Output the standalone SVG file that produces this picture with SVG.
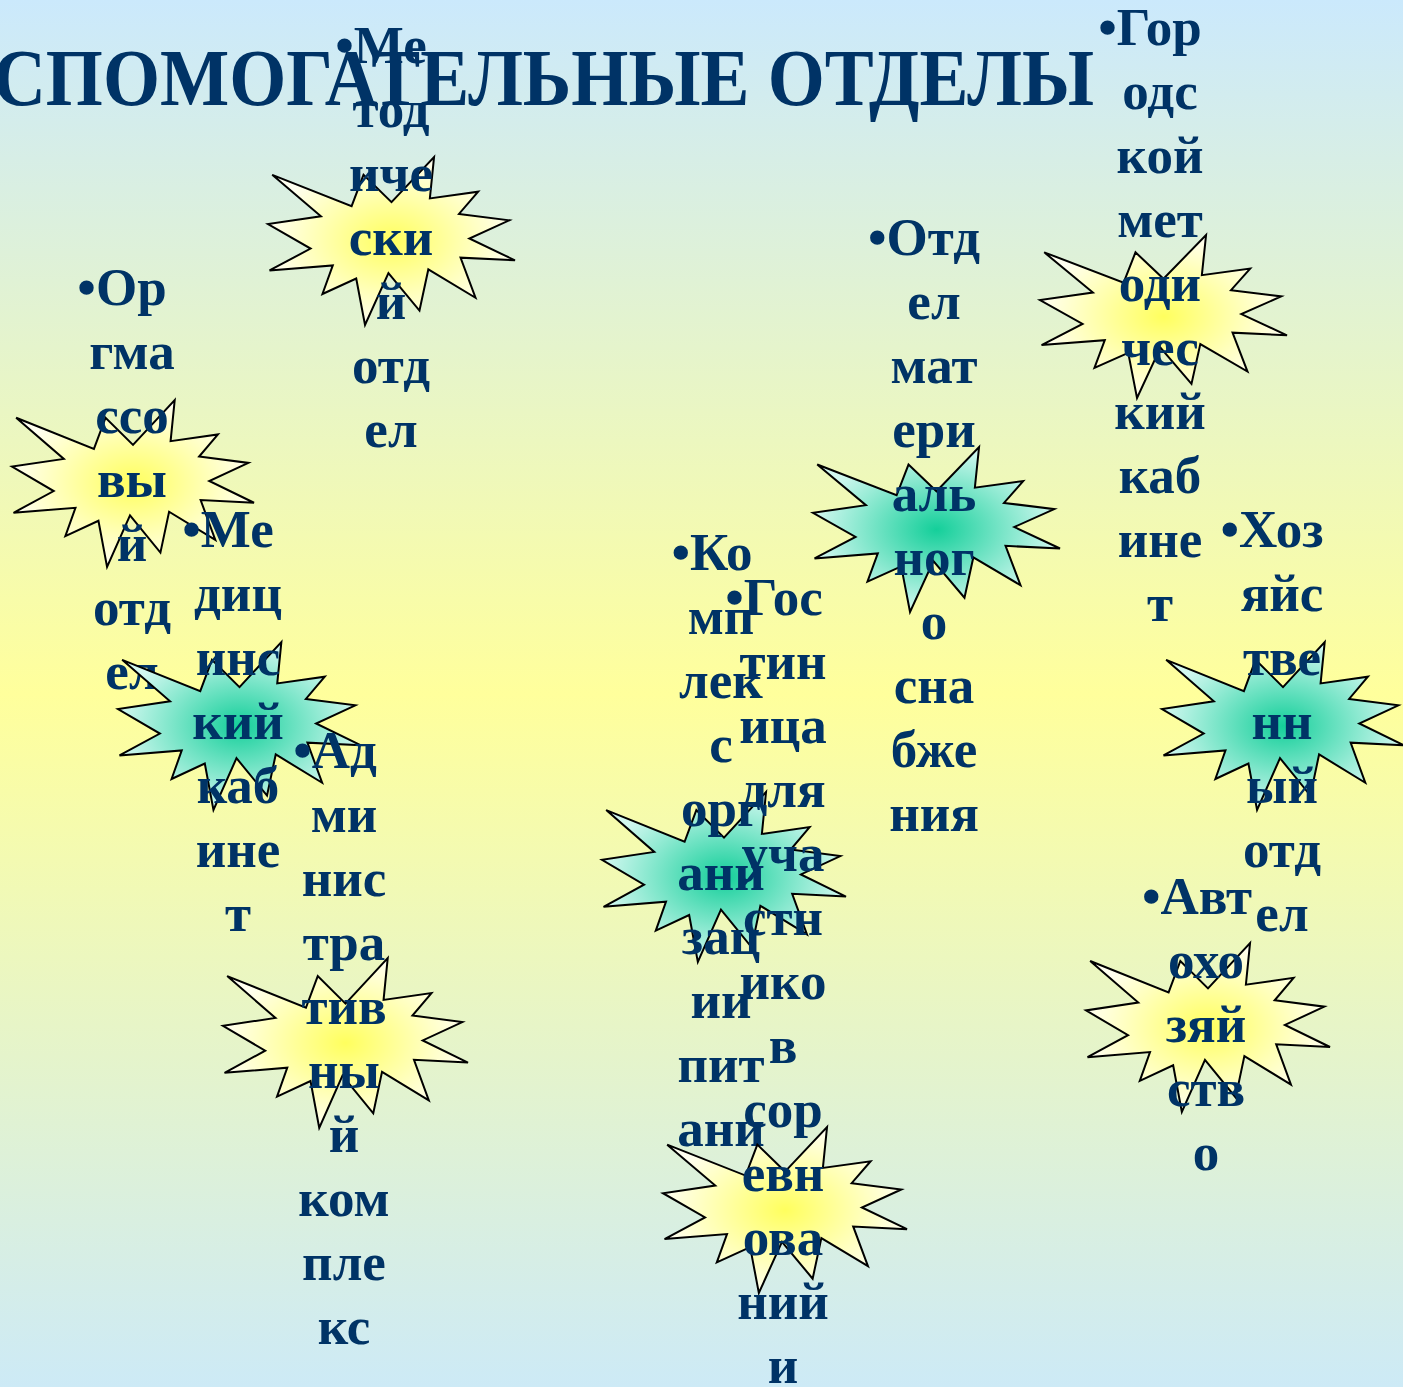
<svg xmlns="http://www.w3.org/2000/svg" xmlns:xlink="http://www.w3.org/1999/xlink" width="1403" height="1387" viewBox="0 0 1403 1387">
<defs>
<linearGradient id="bg" x1="0" y1="0" x2="0" y2="1">
<stop offset="0" stop-color="#cbe9fc"/>
<stop offset="0.5" stop-color="#ffff9c"/>
<stop offset="1" stop-color="#cdeaf6"/>
</linearGradient>
<radialGradient id="gy" cx="0.5" cy="0.5" r="0.5">
<stop offset="0" stop-color="#ffff5e"/>
<stop offset="1" stop-color="#fffff0"/>
</radialGradient>
<radialGradient id="gt" cx="0.5" cy="0.5" r="0.5">
<stop offset="0" stop-color="#14cf9a"/>
<stop offset="1" stop-color="#d2f8f0"/>
</radialGradient>
<polygon id="seal" vector-effect="non-scaling-stroke" points="108,58 145.22,0 141.55,53.25 183.8,44.57 167.02,73.15 210.97,81.37 176.07,104.75 216,132.9 168.37,129.42 181.45,180.95 140.2,144.57 132.47,197.37 105.32,149.35 84.85,216 77.15,156.27 47.62,176.17 56.67,139.37 1.35,145.87 37.22,117.75 0,86.15 46.27,76.17 3.7,22.95 73.12,63.2 83.52,22.95"/>
</defs>
<style>
.y{fill:url(#gy);stroke:#000;stroke-width:2;stroke-linejoin:miter}
.g{fill:url(#gt);stroke:#000;stroke-width:2;stroke-linejoin:miter}
.t{font-family:"Liberation Serif","Times New Roman",serif;font-weight:bold;font-size:53px;fill:#003366;text-anchor:middle}
.title{font-family:"Liberation Serif","Times New Roman",serif;font-weight:bold;font-size:80px;fill:#003366}
</style>
<rect x="0" y="0" width="1403" height="1387" fill="url(#bg)"/>
<text id="title" class="title" x="-56" y="105" textLength="1150" lengthAdjust="spacingAndGlyphs">ВСПОМОГАТЕЛЬНЫЕ ОТДЕЛЫ</text>
<g id="connectors"></g>
<g id="node-orgmass">
<use xlink:href="#seal" class="y" transform="translate(12,400) scale(1.1204,0.7731)"/>
<text class="t"><tspan x="122" y="305">•Ор</tspan><tspan x="132" y="369">гма</tspan><tspan x="132" y="433">ссо</tspan><tspan x="132" y="497">вы</tspan><tspan x="132" y="561">й</tspan><tspan x="132" y="625">отд</tspan><tspan x="132" y="689">ел</tspan></text>
</g>
<g id="node-method">
<use xlink:href="#seal" class="y" transform="translate(268,157) scale(1.1435,0.7778)"/>
<text class="t"><tspan x="381" y="63">•Ме</tspan><tspan x="391" y="127">тод</tspan><tspan x="391" y="191">иче</tspan><tspan x="391" y="255">ски</tspan><tspan x="391" y="319">й</tspan><tspan x="391" y="383">отд</tspan><tspan x="391" y="447">ел</tspan></text>
</g>
<g id="node-medical">
<use xlink:href="#seal" class="g" transform="translate(118,642) scale(1.125,0.7778)"/>
<text class="t"><tspan x="228" y="547">•Ме</tspan><tspan x="238" y="611">диц</tspan><tspan x="238" y="675">инс</tspan><tspan x="238" y="739">кий</tspan><tspan x="238" y="803">каб</tspan><tspan x="238" y="867">ине</tspan><tspan x="238" y="931">т</tspan></text>
</g>
<g id="node-admin">
<use xlink:href="#seal" class="y" transform="translate(223,958) scale(1.1343,0.787)"/>
<text class="t"><tspan x="335" y="768">•Ад</tspan><tspan x="344" y="832">ми</tspan><tspan x="344" y="896">нис</tspan><tspan x="344" y="960">тра</tspan><tspan x="344" y="1024">тив</tspan><tspan x="344" y="1088">ны</tspan><tspan x="344" y="1152">й</tspan><tspan x="344" y="1216">ком</tspan><tspan x="344" y="1280">пле</tspan><tspan x="344" y="1344">кс</tspan></text>
</g>
<g id="node-food">
<use xlink:href="#seal" class="g" transform="translate(602,792) scale(1.1296,0.787)"/>
<text class="t"><tspan x="712" y="570">•Ко</tspan><tspan x="721" y="634">мп</tspan><tspan x="721" y="698">лек</tspan><tspan x="721" y="762">с</tspan><tspan x="721" y="826">орг</tspan><tspan x="721" y="890">ани</tspan><tspan x="721" y="954">зац</tspan><tspan x="721" y="1018">ии</tspan><tspan x="721" y="1082">пит</tspan><tspan x="721" y="1146">ани</tspan></text>
</g>
<g id="node-hotel">
<use xlink:href="#seal" class="y" transform="translate(663,1127) scale(1.1296,0.7685)"/>
<text class="t"><tspan x="774" y="615">•Гос</tspan><tspan x="783" y="679">тин</tspan><tspan x="783" y="743">ица</tspan><tspan x="783" y="807">для</tspan><tspan x="783" y="871">уча</tspan><tspan x="783" y="935">стн</tspan><tspan x="783" y="999">ико</tspan><tspan x="783" y="1063">в</tspan><tspan x="783" y="1127">сор</tspan><tspan x="783" y="1191">евн</tspan><tspan x="783" y="1255">ова</tspan><tspan x="783" y="1319">ний</tspan><tspan x="783" y="1383">и</tspan></text>
</g>
<g id="node-material">
<use xlink:href="#seal" class="g" transform="translate(813,447) scale(1.1435,0.7639)"/>
<text class="t"><tspan x="924" y="255">•Отд</tspan><tspan x="934" y="319">ел</tspan><tspan x="934" y="383">мат</tspan><tspan x="934" y="447">ери</tspan><tspan x="934" y="511">аль</tspan><tspan x="934" y="575">ног</tspan><tspan x="934" y="639">о</tspan><tspan x="934" y="703">сна</tspan><tspan x="934" y="767">бже</tspan><tspan x="934" y="831">ния</tspan></text>
</g>
<g id="node-gorod">
<use xlink:href="#seal" class="y" transform="translate(1040,235) scale(1.1435,0.7546)"/>
<text class="t"><tspan x="1150" y="45">•Гор</tspan><tspan x="1160" y="109">одс</tspan><tspan x="1160" y="173">кой</tspan><tspan x="1160" y="237">мет</tspan><tspan x="1160" y="301">оди</tspan><tspan x="1160" y="365">чес</tspan><tspan x="1160" y="429">кий</tspan><tspan x="1160" y="493">каб</tspan><tspan x="1160" y="557">ине</tspan><tspan x="1160" y="621">т</tspan></text>
</g>
<g id="node-hoz">
<use xlink:href="#seal" class="g" transform="translate(1162,642) scale(1.1204,0.7778)"/>
<text class="t"><tspan x="1272" y="547">•Хоз</tspan><tspan x="1282" y="611">яйс</tspan><tspan x="1282" y="675">тве</tspan><tspan x="1282" y="739">нн</tspan><tspan x="1282" y="803">ый</tspan><tspan x="1282" y="867">отд</tspan><tspan x="1282" y="931">ел</tspan></text>
</g>
<g id="node-avto">
<use xlink:href="#seal" class="y" transform="translate(1086,943) scale(1.1296,0.7824)"/>
<text class="t"><tspan x="1197" y="914">•Авт</tspan><tspan x="1206" y="978">охо</tspan><tspan x="1206" y="1042">зяй</tspan><tspan x="1206" y="1106">ств</tspan><tspan x="1206" y="1170">о</tspan></text>
</g>
</svg>
